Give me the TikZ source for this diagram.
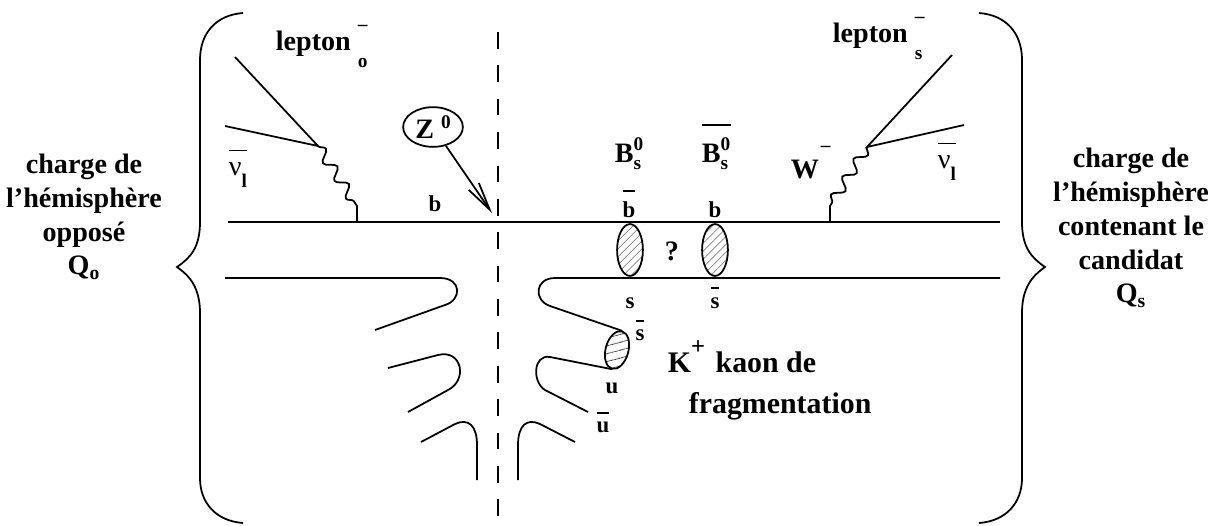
\documentclass[tikz,border=0pt]{standalone}
\usepackage{fontspec}
\setmainfont{Liberation Serif}
\usetikzlibrary{arrows.meta,shapes.geometric,patterns.meta,decorations.pathmorphing}

\newcommand{\sm}{\fontsize{11}{13}\selectfont}
% barre au-dessus : #1 = hauteur de la barre
\newcommand{\ovl}[2]{\vbox{\hrule height 1pt\kern1pt\hbox{\rule{0pt}{#1}#2}}}
\newcommand{\lept}[1]{lepton\kern4pt\rlap{\raisebox{11pt}{\sm --}}\raisebox{-10pt}{\sm #1}}

\begin{document}
\begin{tikzpicture}[x=0.02cm, y=-0.02cm, line width=1pt,
  big/.style={font=\bfseries\fontsize{16}{19.2}\selectfont, inner sep=0pt},
  lbl/.style={font=\bfseries\fontsize{13}{15}\selectfont, inner sep=0pt},
  wavy/.style={decoration={snake, amplitude=3pt, segment length=12pt}},
  meson/.style={ellipse, draw, inner sep=0pt, minimum width=14.7pt, minimum height=29.5pt,
    pattern={Lines[angle=45, distance=3.2pt, line width=0.4pt]}, pattern color=gray}]
  \useasboundingbox (0,0) rectangle (1220,525);

  % accolades
  \draw (243,13) .. controls (216,15) and (200,33) .. (200,60) -- (200,222)
    .. controls (200,248) and (190,258) .. (177,267)
    .. controls (190,276) and (200,288) .. (200,313) -- (200,478)
    .. controls (200,503) and (216,521) .. (243,523);
  \draw (979,13) .. controls (1006,15) and (1022,33) .. (1022,60) -- (1022,222)
    .. controls (1022,248) and (1032,258) .. (1045,267)
    .. controls (1032,276) and (1022,288) .. (1022,313) -- (1022,478)
    .. controls (1022,503) and (1006,521) .. (979,523);
  \node[big, align=center] (qolbl) at (84,217) {charge de\\l’hémisphère\\opposé\\Q\textsubscript{o}};
  \node[big, align=center] (qslbl) at (1131,228) {charge de\\l’hémisphère\\contenant le\\candidat\\Q\textsubscript{s}};

  % séparation des hémisphères
  \draw[dash pattern=on 9.5pt off 9.5pt] (498,32) -- (498,525);

  % quarks b et s
  \draw (228,222) -- (1000,222);
  \draw (225,278) -- (440,278) .. controls (462,278) and (462,300) .. (445,305) -- (375,330);
  \draw (388,368) -- (438,355) .. controls (462,349) and (468,380) .. (448,390) -- (408,412);
  \draw (421,442) -- (455,424) .. controls (468,418) and (477,425) .. (477,445) -- (477,480);
  \draw (518,480) -- (518,445) .. controls (518,425) and (527,418) .. (540,424) -- (575,442);

  \node[meson] (bs) at (630,250) {};
  \node[meson] (bsbar) at (715,250) {};
  \node[ellipse, draw, rotate=-15, inner sep=0pt, minimum width=13pt, minimum height=22pt,
    pattern={Lines[angle=15, distance=4pt, line width=0.6pt]}, pattern color=darkgray] (kaon) at (617,350) {};
  \draw (1000,278) -- (555,278) .. controls (535,278) and (533,300) .. (550,306) -- (kaon.north);
  \draw (kaon.south) -- (550,357) .. controls (533,354) and (532,382) .. (545,390) -- (588,412);

  % desintegrations semi-leptoniques
  \coordinate (vtxo) at (318,146);
  \coordinate (vtxs) at (867,147);
  \draw (235,57) -- (vtxo) -- (225,126);
  \draw (vtxo) decorate[wavy] {-- (357,206)} -- (357,222);
  \draw (952,55) -- (vtxs) -- (964,125);
  \draw (vtxs) decorate[wavy] {-- (830,206)} -- (830,222);

  \node[big, anchor=base west] (lepo) at (275,50) {\lept{o}};
  \node[big, anchor=base west] (leps) at (832,42) {\lept{s}};
  \node[big, anchor=base west] (nuo) at (228,175) {\ovl{12.5pt}{{\mdseries ν}\raisebox{-7pt}{\sm l}}};
  \node[big, anchor=base west] (nus) at (937,168) {\ovl{12.5pt}{{\mdseries ν}\raisebox{-7pt}{\sm l}}};
  \node[big, anchor=base west] (wlbl) at (790,178) {W\kern1pt\raisebox{15pt}{\sm --}};

  % Z0
  \node[big, ellipse, draw, minimum width=34pt, minimum height=22.6pt] (zed) at (433,127) {Z\kern4pt\raisebox{6pt}{\sm 0}};
  \coordinate (ztip) at (492,213);
  \draw[-{Straight Barb[length=16pt, width=7pt]}] (zed) -- (ztip);

  \node[big, anchor=base west] (bslbl) at (614,162) {B$^{\hbox{\sm 0}}_{\hbox{\sm s}}$};
  \node[big, anchor=base west] (bsbarlbl) at (701,162) {\ovl{19.4pt}{B$^{\hbox{\sm 0}}_{\hbox{\sm s}}$}};

  \node[lbl, anchor=base] (bzlbl) at (435,211) {b};
  \node[lbl, anchor=base] (bbarlbl) at (629,217) {\ovl{13.5pt}{b}};
  \node[lbl, anchor=base] (blbl) at (715,217) {b};
  \node[lbl, anchor=base] (slbl) at (630,308) {s};
  \node[lbl, anchor=base] (sbarlbl) at (715,308) {\ovl{9.8pt}{s}};
  \node[lbl, anchor=base] (sbarklbl) at (640,340) {\ovl{9.5pt}{s}};
  \node[lbl, anchor=base] (ulbl) at (612,393) {u};
  \node[lbl, anchor=base] (ubarlbl) at (603,432) {\ovl{9.2pt}{u}};
  \node[big, anchor=base] (qmark) at (672,260) {?};

  \node[big, anchor=base west, font=\bfseries\fontsize{17}{20}\selectfont] (kaonlbl) at (667,372)
    {K\raisebox{10pt}{\fontsize{14}{16}\selectfont +}\hspace{6pt}kaon de};
  \node[big, anchor=base west, font=\bfseries\fontsize{17}{20}\selectfont] (fraglbl) at (688,413) {fragmentation};
\end{tikzpicture}
\end{document}
